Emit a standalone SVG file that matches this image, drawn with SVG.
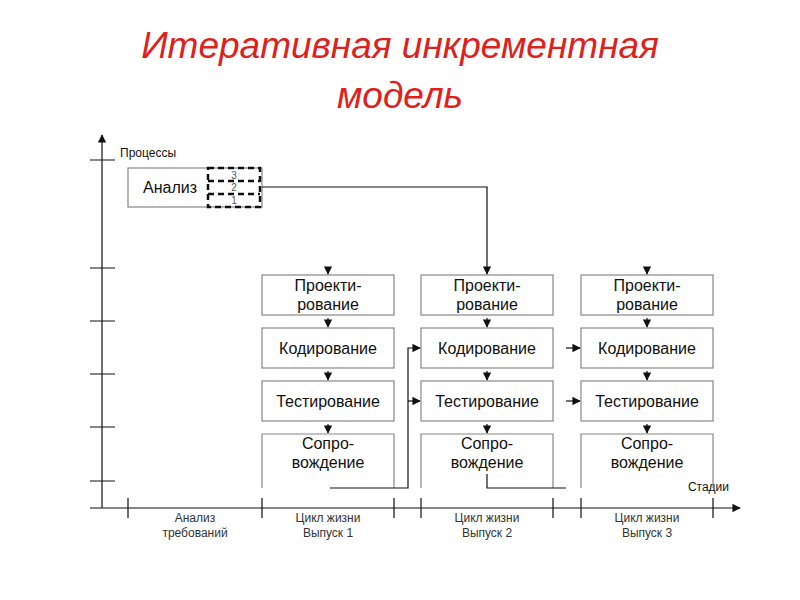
<svg xmlns="http://www.w3.org/2000/svg" width="800" height="600" viewBox="0 0 800 600">
<style>
.t{font-family:"Liberation Sans",Arial,sans-serif;fill:#111}
.b{font-size:16px;text-anchor:middle}
.s{font-size:12px;text-anchor:middle;fill:#333}
.box{fill:#fff;stroke:#888;stroke-width:1.2}
.op{fill:none;stroke:#888;stroke-width:1.2}
.ln{fill:none;stroke:#111;stroke-width:1.2}
.dg{font-size:10px;text-anchor:middle;fill:#555}
</style>
<defs>
<marker id="a" viewBox="0 0 10 10" refX="9" refY="5" markerWidth="7" markerHeight="7" orient="auto"><path d="M0,0L10,5L0,10z" fill="#111"/></marker>
</defs>
<rect width="800" height="600" fill="#fff"/>
<text x="400" y="58" font-family="Liberation Sans,Arial,sans-serif" font-size="37" font-style="italic" fill="#e0201a" text-anchor="middle">Итеративная инкрементная</text>
<text x="400" y="108" font-family="Liberation Sans,Arial,sans-serif" font-size="37" font-style="italic" fill="#e0201a" text-anchor="middle">модель</text>
<g id="axes" class="ln">
<line x1="102" y1="508" x2="102" y2="135" marker-end="url(#a)"/>
<line x1="90" y1="508" x2="740" y2="508" marker-end="url(#a)"/>
<path d="M90,160H115M90,268H115M90,321H115M90,374H115M90,427H115M90,481H115"/>
<path d="M128,498V518M262,498V518M394,498V518M421,498V518M553,498V518M581,498V518M713,498V518"/>
</g>
<text class="t" x="120" y="157" font-size="12" fill="#333">Процессы</text>
<text class="t" x="729" y="491" font-size="12" text-anchor="end">Стадии</text>
<text class="t s" x="195" y="522">Анализ</text><text class="t s" x="195" y="537">требований</text>
<text class="t s" x="328" y="522">Цикл жизни</text><text class="t s" x="328" y="537">Выпуск 1</text>
<text class="t s" x="487" y="522">Цикл жизни</text><text class="t s" x="487" y="537">Выпуск 2</text>
<text class="t s" x="647" y="522">Цикл жизни</text><text class="t s" x="647" y="537">Выпуск 3</text>
<g id="analiz">
<rect class="box" x="128" y="168" width="134" height="39"/>
<text class="t b" x="170" y="193">Анализ</text>
<g fill="none" stroke="#111" stroke-width="2.5" stroke-dasharray="6,4">
<rect x="208" y="168" width="52" height="39"/>
<line x1="208" y1="181" x2="260" y2="181"/>
<line x1="208" y1="194" x2="260" y2="194"/>
</g>
<text class="t dg" x="234" y="179">3</text>
<text class="t dg" x="234" y="191">2</text>
<text class="t dg" x="234" y="204">1</text>
</g>
<g id="c1">
<rect class="box" x="262" y="275" width="132" height="40"/><text class="t b" x="328" y="291">Проекти-</text><text class="t b" x="328" y="310">рование</text>
<rect class="box" x="262" y="328" width="132" height="40"/><text class="t b" x="328" y="354">Кодирование</text>
<rect class="box" x="262" y="381" width="132" height="40"/><text class="t b" x="328" y="407">Тестирование</text>
<path class="op" d="M262,488V434H394V488"/><text class="t b" x="328" y="449">Сопро-</text><text class="t b" x="328" y="468">вождение</text>
</g>
<g id="c2">
<rect class="box" x="421" y="275" width="132" height="40"/><text class="t b" x="487" y="291">Проекти-</text><text class="t b" x="487" y="310">рование</text>
<rect class="box" x="421" y="328" width="132" height="40"/><text class="t b" x="487" y="354">Кодирование</text>
<rect class="box" x="421" y="381" width="132" height="40"/><text class="t b" x="487" y="407">Тестирование</text>
<path class="op" d="M421,488V434H553V488"/><text class="t b" x="487" y="449">Сопро-</text><text class="t b" x="487" y="468">вождение</text>
</g>
<g id="c3">
<rect class="box" x="581" y="275" width="132" height="40"/><text class="t b" x="647" y="291">Проекти-</text><text class="t b" x="647" y="310">рование</text>
<rect class="box" x="581" y="328" width="132" height="40"/><text class="t b" x="647" y="354">Кодирование</text>
<rect class="box" x="581" y="381" width="132" height="40"/><text class="t b" x="647" y="407">Тестирование</text>
<path class="op" d="M581,488V434H713V488"/><text class="t b" x="647" y="449">Сопро-</text><text class="t b" x="647" y="468">вождение</text>
</g>
<g id="connectors" class="ln">
<path d="M262,187H487V274" marker-end="url(#a)"/>
<line x1="328" y1="268" x2="328" y2="274" marker-end="url(#a)"/>
<line x1="647" y1="268" x2="647" y2="274" marker-end="url(#a)"/>
<line x1="328" y1="318" x2="328" y2="327" marker-end="url(#a)"/>
<line x1="328" y1="371" x2="328" y2="380" marker-end="url(#a)"/>
<line x1="328" y1="424" x2="328" y2="433" marker-end="url(#a)"/>
<line x1="487" y1="318" x2="487" y2="327" marker-end="url(#a)"/>
<line x1="487" y1="371" x2="487" y2="380" marker-end="url(#a)"/>
<line x1="487" y1="424" x2="487" y2="433" marker-end="url(#a)"/>
<line x1="647" y1="318" x2="647" y2="327" marker-end="url(#a)"/>
<line x1="647" y1="371" x2="647" y2="380" marker-end="url(#a)"/>
<line x1="647" y1="424" x2="647" y2="433" marker-end="url(#a)"/>
<path d="M330,488H408V348H420" marker-end="url(#a)"/>
<line x1="408" y1="401" x2="420" y2="401" marker-end="url(#a)"/>
<path d="M487,474V488H566"/>
<line x1="566" y1="348" x2="580" y2="348" marker-end="url(#a)"/>
<line x1="566" y1="401" x2="580" y2="401" marker-end="url(#a)"/>
</g>
</svg>
